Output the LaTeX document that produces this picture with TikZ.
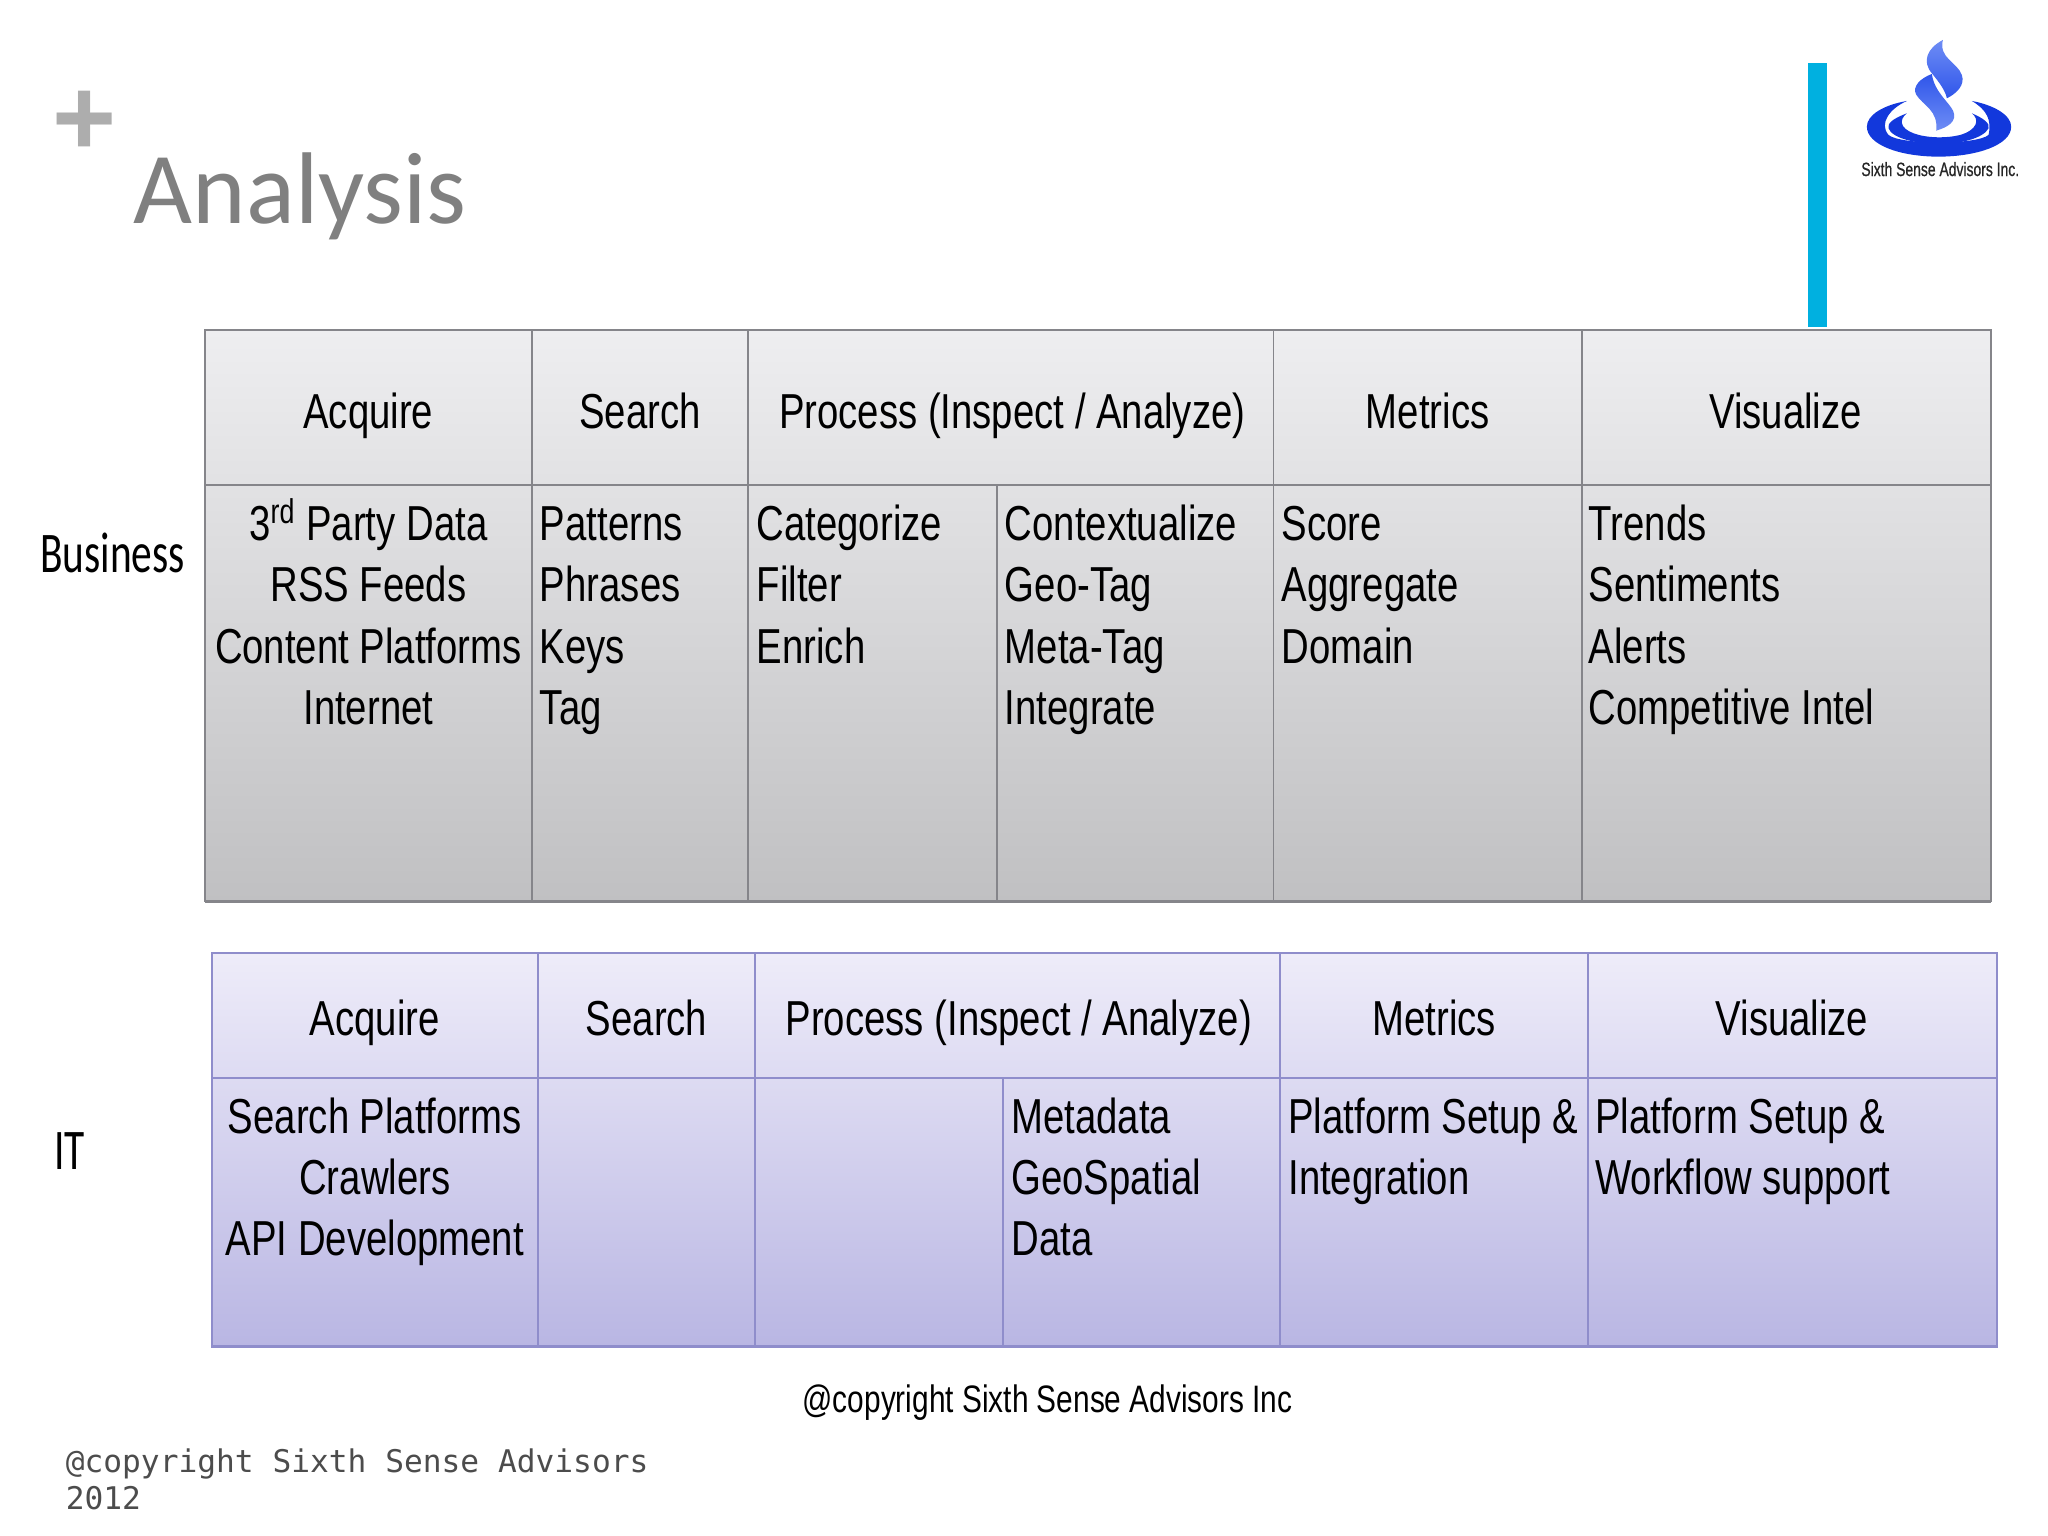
\documentclass[tikz,border=0pt]{standalone}
\usepackage{fontspec}
\setmainfont{Liberation Sans}
\newfontfamily\narrowf[FakeStretch=0.78]{Liberation Sans}
\newfontfamily\logof[FakeStretch=0.72,FakeBold=0.6]{Liberation Sans}
\newfontfamily\calnarrow[FakeStretch=0.72]{Carlito}
\newfontfamily\calf{Carlito}
\newfontfamily\monof{DejaVu Sans Mono}
\usetikzlibrary{calc}
\definecolor{barcyan}{HTML}{00B0E0}
\definecolor{bizline}{HTML}{85858A}
\definecolor{bizt}{HTML}{EEEEF0}
\definecolor{bizm}{HTML}{DADADC}
\definecolor{bizb}{HTML}{C0C0C2}
\definecolor{itline}{HTML}{8F8DCB}
\definecolor{itt}{HTML}{EEECF9}
\definecolor{itm}{HTML}{D7D5F0}
\definecolor{itb}{HTML}{B9B6E3}
\definecolor{logoblue}{HTML}{1238DC}
\definecolor{logolight}{HTML}{6E8DF5}
\definecolor{logomid}{HTML}{2F55EA}
\newcommand{\fs}{\rule{0pt}{20pt}}
\tikzset{
  x=0.5pt,y=-0.5pt,
  cellfont/.style={font=\narrowf\fontsize{18.8}{23.5}\selectfont,text=black,inner sep=0pt},
  itfont/.style={font=\narrowf\fontsize{18.8}{23.35}\selectfont,text=black,inner sep=0pt},
  head/.style={cellfont,anchor=base},
  leftcell/.style={cellfont,anchor=north west,align=left},
  midcell/.style={cellfont,anchor=north,align=center},
  itleft/.style={itfont,anchor=north west,align=left},
  itmid/.style={itfont,anchor=north,align=center},
  bizgrid/.style={draw=bizline,line width=0.75pt},
  itgrid/.style={draw=itline,line width=0.75pt},
  rowlabel/.style={font=\calnarrow\fontsize{22}{25}\selectfont,text=black,inner sep=0pt,anchor=base west},
}
\begin{document}
\begin{tikzpicture}
\useasboundingbox (0,0) rectangle (1568,1176);
\fill[white] (0,0) rectangle (1568,1176);
% bar
\fill[barcyan] (1384,48) rectangle (1399,250);
% title
\node[font=\bfseries\fontsize{42}{42}\selectfont,text=black!32,inner sep=0pt] (plus) at (64.5,94.5) {+};
\node[font=\calf\fontsize{39}{40}\selectfont,text=black!50,inner sep=0pt,anchor=base west] (title) at (102,171) {Analysis};
% logo
\begin{scope}[shift={(1340,15.3)},x=0.1276pt,y=-0.1276pt]
  \fill[logoblue] (470,243) .. controls (400,255) and (350,285) .. (350,320)
     .. controls (350,375) and (450,410) .. (565,410)
     .. controls (680,410) and (783,375) .. (783,320)
     .. controls (783,285) and (730,255) .. (665,243)
     .. controls (710,270) and (725,300) .. (715,345)
     .. controls (680,375) and (450,375) .. (415,345)
     .. controls (385,310) and (420,265) .. (470,243) -- cycle;
  \fill[logoblue] (470,280) .. controls (430,295) and (410,310) .. (415,325)
     .. controls (425,355) and (500,372) .. (565,372)
     .. controls (630,372) and (700,355) .. (715,325)
     .. controls (720,310) and (700,295) .. (665,280)
     .. controls (690,300) and (680,330) .. (630,345)
     .. controls (590,355) and (530,355) .. (490,340)
     .. controls (450,325) and (445,300) .. (470,280) -- cycle;
  \shade[top color=logolight,bottom color=logomid,shading angle=0]
     (578,60) .. controls (530,85) and (515,125) .. (545,160)
     .. controls (565,185) and (585,210) .. (590,235)
     .. controls (620,220) and (645,195) .. (635,165)
     .. controls (620,125) and (565,115) .. (578,60) -- cycle;
  \shade[top color=logomid,bottom color=logolight,shading angle=0]
     (545,162) .. controls (510,175) and (485,200) .. (498,224)
     .. controls (518,257) and (565,270) .. (558,332)
     .. controls (592,322) and (622,305) .. (609,273)
     .. controls (595,245) and (552,215) .. (545,162) -- cycle;
\end{scope}
\node[font=\logof\fontsize{7.4}{9}\selectfont,text=black!85,inner sep=0pt] (logotext) at (1485.5,129.5) {Sixth Sense Advisors Inc.};
% Business table
\shade[top color=bizt,middle color=bizm,bottom color=bizb,shading angle=0]
   (157,253) rectangle (1524,690);
\draw[bizgrid] (157,253) rectangle (1524,690);
\draw[bizgrid] (157,371) -- (1524,371);
\foreach \x in {407,573,975,1211} \draw[bizgrid] (\x,253) -- (\x,690);
\draw[bizgrid] (763,371) -- (763,690);
\draw[bizline,line width=1.1pt] (157,690) -- (1524,690);
\node[head] (bh1) at (282,328) {Acquire};
\node[head] (bh2) at (490,328) {Search};
\node[head] (bh3) at (775,328) {Process (Inspect / Analyze)};
\node[head] (bh4) at (1093,328) {Metrics};
\node[head] (bh5) at (1367,328) {Visualize};
\node[midcell] (bc1) at (282,373.3) {\fs 3\textsuperscript{rd} Party Data\\RSS Feeds\\Content Platforms\\Internet};
\node[leftcell] (bc2) at (413,373.3) {\fs Patterns\\Phrases\\Keys\\Tag};
\node[leftcell] (bc3) at (579,373.3) {\fs Categorize\\Filter\\Enrich};
\node[leftcell] (bc4) at (769,373.3) {\fs Contextualize\\Geo-Tag\\Meta-Tag\\Integrate};
\node[leftcell] (bc5) at (981,373.3) {\fs Score\\Aggregate\\Domain};
\node[leftcell] (bc6) at (1216,373.3) {\fs Trends\\Sentiments\\Alerts\\Competitive Intel};
% IT table
\shade[top color=itt,middle color=itm,bottom color=itb,shading angle=0]
   (162,730) rectangle (1529,1031);
\draw[itgrid] (162,730) rectangle (1529,1031);
\draw[itgrid] (162,825) -- (1529,825);
\foreach \x in {412,578,980,1216} \draw[itgrid] (\x,730) -- (\x,1031);
\draw[itgrid] (768,825) -- (768,1031);
\draw[itline,line width=1.1pt] (162,1031) -- (1529,1031);
\node[head] (ih1) at (287,793) {Acquire};
\node[head] (ih2) at (495,793) {Search};
\node[head] (ih3) at (780,793) {Process (Inspect / Analyze)};
\node[head] (ih4) at (1098,793) {Metrics};
\node[head] (ih5) at (1372,793) {Visualize};
\node[itmid] (ic1) at (287,827.4) {\fs Search Platforms\\Crawlers\\API Development};
\node[itleft] (ic4) at (774,827.4) {\fs Metadata\\GeoSpatial\\Data};
\node[itleft] (ic5) at (986,827.4) {\fs Platform Setup \&\\Integration};
\node[itleft] (ic6) at (1221,827.4) {\fs Platform Setup \&\\Workflow support};
% labels
\node[rowlabel] (biz) at (30.5,438.5) {Business};
\node[rowlabel] (it) at (41,895.5) {IT};
% copyright
\node[font=\narrowf\fontsize{14.65}{18}\selectfont,text=black,inner sep=0pt,anchor=base] (copy) at (802,1081.5) {@copyright Sixth Sense Advisors Inc};
\node[font=\monof\fontsize{11.95}{14}\selectfont,text=black!70,inner sep=0pt,anchor=north west,align=left] (foot) at (50,1105) {\rule{0pt}{11pt}@copyright Sixth Sense Advisors\\2012};
\end{tikzpicture}
\end{document}
